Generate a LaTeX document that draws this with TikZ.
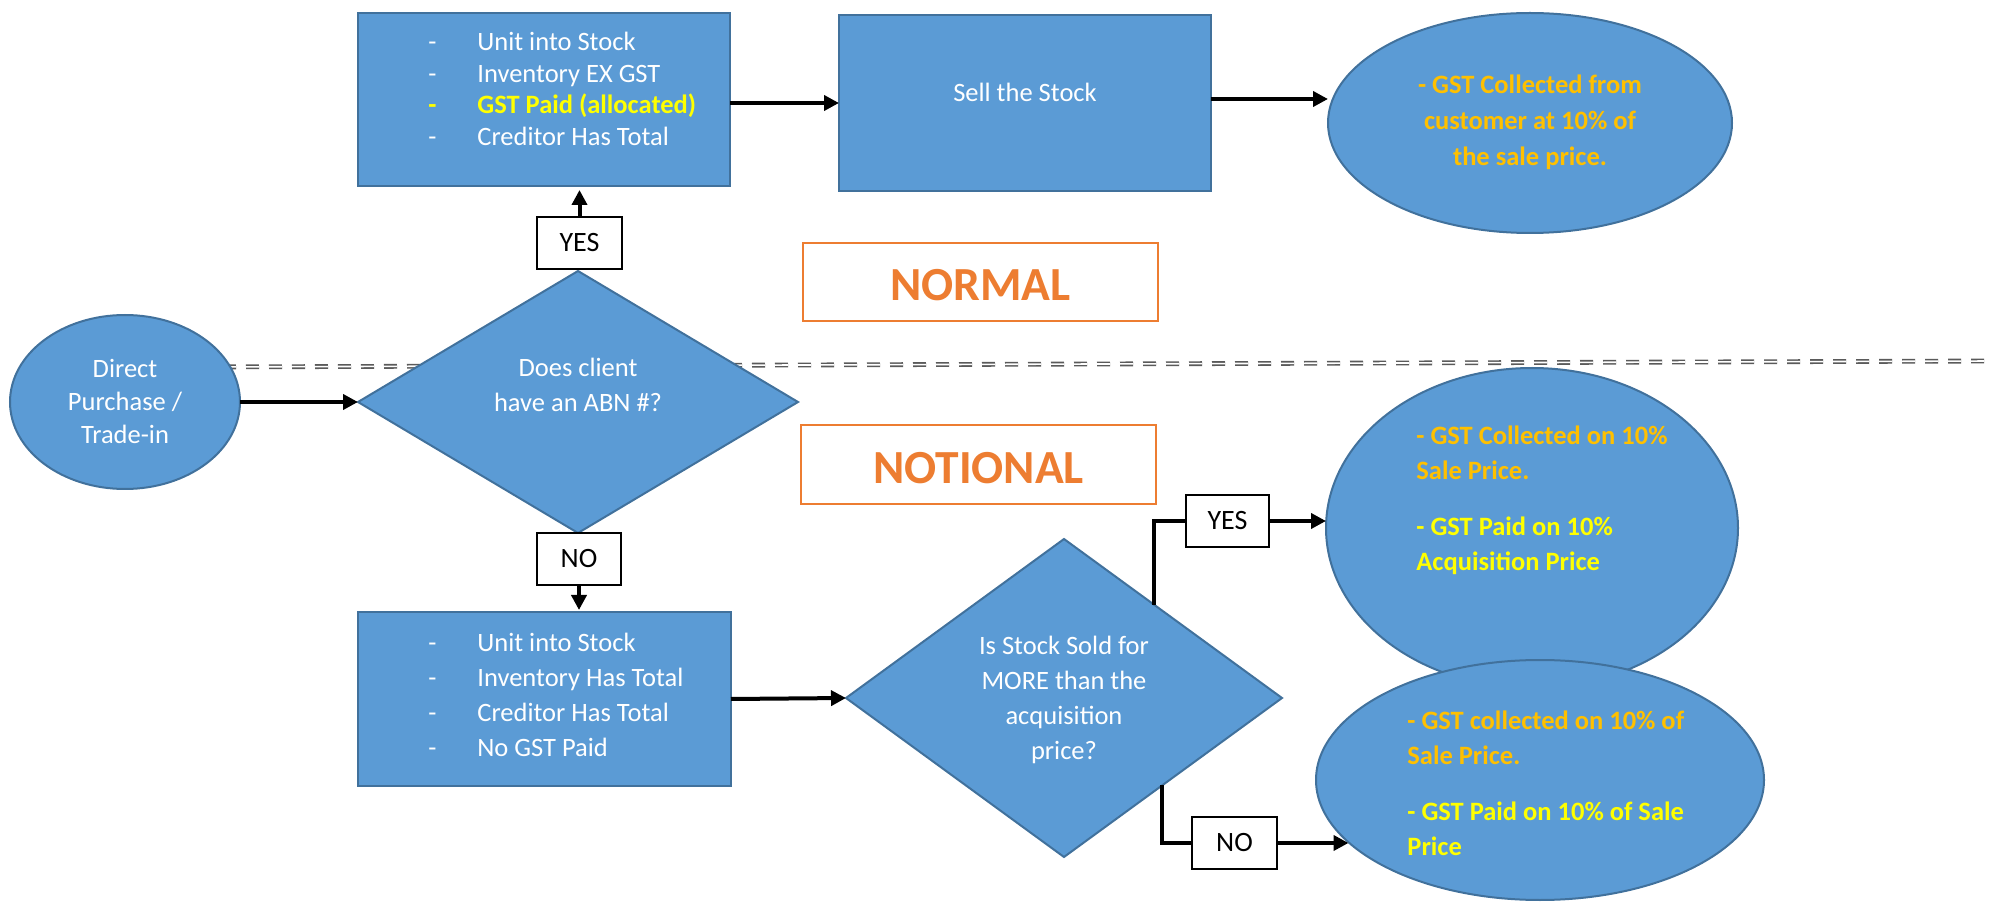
\documentclass[tikz,border=0pt]{standalone}
\usepackage{fontspec}
\setmainfont{Carlito}
\usetikzlibrary{shapes.geometric,arrows.meta,calc}
\definecolor{fillblue}{HTML}{5B9BD5}
\definecolor{edgeblue}{HTML}{41719C}
\definecolor{orangeT}{HTML}{ED7D31}
\definecolor{goldT}{HTML}{FFC000}
\definecolor{yellowT}{HTML}{FFFF00}
\definecolor{sepgray}{HTML}{5A5A5A}
\newcommand\itm[1]{\makebox[24.5pt][l]{-}#1}
\begin{document}
\begin{tikzpicture}[x=0.5pt,y=-0.5pt,
  blueshape/.style={fill=fillblue,draw=edgeblue,line width=1pt,inner sep=0pt,outer sep=0pt},
  procbox/.style={blueshape,rectangle},
  oval/.style={blueshape,ellipse},
  decision/.style={blueshape,diamond},
  labelbox/.style={draw=black,fill=white,line width=0.75pt,inner sep=0pt,outer sep=0pt,
    minimum height=26pt,font=\fontsize{14}{16}\selectfont},
  modebox/.style={draw=orangeT,fill=white,line width=1pt,inner sep=0pt,outer sep=0pt,
    text height=19pt,text depth=0pt,
    text=orangeT,font=\fontsize{23.75}{28}\selectfont\bfseries},
  wtext/.style={text=white,inner sep=0pt,align=center,font=\fontsize{13.25}{17.5}\selectfont},
  otext/.style={inner sep=0pt,align=left,font=\fontsize{13.25}{17.5}\selectfont\bfseries},
  arr/.style={-{Triangle[length=7.5pt,width=7.5pt]},line width=2pt,black},
  conn/.style={line width=2pt,black},
  sepline/.style={draw=sepgray,double=white,double distance=0.8pt,line width=0.8pt,
    dash pattern=on 6.5pt off 5pt}
]
\useasboundingbox (0,0) rectangle (1993,903);

% separator
\coordinate (sepL) at (200,367);
\coordinate (sepR) at (1993,361);
\draw[sepline] (sepL) -- (sepR);

% shapes
\node[oval,minimum width=115pt,minimum height=87pt] (circ) at (125,402) {};
\node[decision,minimum width=220pt,minimum height=131pt] (d1) at (578,402) {};
\node[procbox,minimum width=186pt,minimum height=86.5pt] (box1) at (544,99.5) {};
\node[procbox,minimum width=186pt,minimum height=88pt] (sell) at (1025,103) {};
\node[oval,minimum width=202pt,minimum height=110pt] (e1) at (1530,123) {};
\node[procbox,minimum width=186.5pt,minimum height=87pt] (box3) at (544.5,699) {};
\node[decision,minimum width=218pt,minimum height=159pt] (d2) at (1064,698) {};
\node[oval,minimum width=206pt,minimum height=160pt] (e2) at (1532,528) {};
\node[oval,minimum width=224pt,minimum height=120pt] (e3) at (1540,780) {};

% label boxes
\node[labelbox,minimum width=42.5pt] (yes1) at (579.5,243) {YES};
\node[labelbox,minimum width=42pt] (no1) at (579,559) {NO};
\node[labelbox,minimum width=41.5pt] (yes2) at (1227.5,521) {YES};
\node[labelbox,minimum width=42.5pt] (no2) at (1234.5,843) {NO};

% mode boxes
\node[modebox,minimum width=177.5pt,minimum height=39pt] (normal) at (980.5,282) {NORMAL};
\node[modebox,minimum width=177.5pt,minimum height=39.5pt] (notional) at (978.5,464.5) {NOTIONAL};

% texts
\node[wtext,font=\fontsize{13.25}{16.5}\selectfont] (t-circ) at (125,401) {Direct\\Purchase /\\Trade-in};
\node[wtext] (t-d1) at (578,385) {Does client\\have an ABN \#?};
\node[wtext,anchor=west,align=left,font=\fontsize{13.25}{15.9}\selectfont] (t-box1) at (428,89)
  {\itm{Unit into Stock}\\\itm{Inventory EX GST}\\{\color{yellowT}\bfseries\itm{GST Paid (allocated)}}\\\itm{Creditor Has Total}};
\node[wtext] (t-sell) at (1025,92) {Sell the Stock};
\node[otext,align=center,text=goldT,font=\fontsize{13.25}{18}\selectfont\bfseries] (t-e1) at (1530,122) {- GST Collected from\\customer at 10\% of\\the sale price.};
\node[wtext,anchor=west,align=left] (t-box3) at (428,695)
  {\itm{Unit into Stock}\\\itm{Inventory Has Total}\\\itm{Creditor Has Total}\\\itm{No GST Paid}};
\node[wtext] (t-d2) at (1064,700) {Is Stock Sold for\\MORE than the\\acquisition\\price?};
\node[otext,anchor=west] (t-e2) at (1416,500)
  {\color{goldT}- GST Collected on 10\%\\\color{goldT}Sale Price.\\[10.5pt]\color{yellowT}- GST Paid on 10\%\\\color{yellowT}Acquisition Price};
\node[otext,anchor=west] (t-e3) at (1407,783)
  {\color{goldT}- GST collected on 10\% of\\\color{goldT}Sale Price.\\[10.5pt]\color{yellowT}- GST Paid on 10\% of Sale\\\color{yellowT}Price};

% connectors
\draw[arr] (circ.east) -- (d1.west);
\draw[arr,shorten >=2pt] (yes1.north) -- (yes1.north |- box1.south);
\draw[arr,shorten >=1pt] (no1.south) -- (no1.south |- box3.north);
\draw[arr] (box1.east |- sell.west) -- (sell.west);
\coordinate (sellout) at ($(sell.east)+(0,-4)$);
\draw[arr] (sellout) -- (sellout -| e1.west);
\draw[arr] (box3.east) -- (d2.west);
\coordinate (d2y) at ($(d2.north)!0.413!(d2.east)$);
\coordinate (d2n) at ($(d2.east)!0.55!(d2.south)$);
\draw[conn] (d2y) |- (yes2.west);
\draw[arr] (yes2.east) -- (yes2.east -| e2.west);
\draw[conn] (d2n) |- (no2.west);
\draw[arr] (no2.east) -- (no2.east -| e3.198);
\end{tikzpicture}
\end{document}
